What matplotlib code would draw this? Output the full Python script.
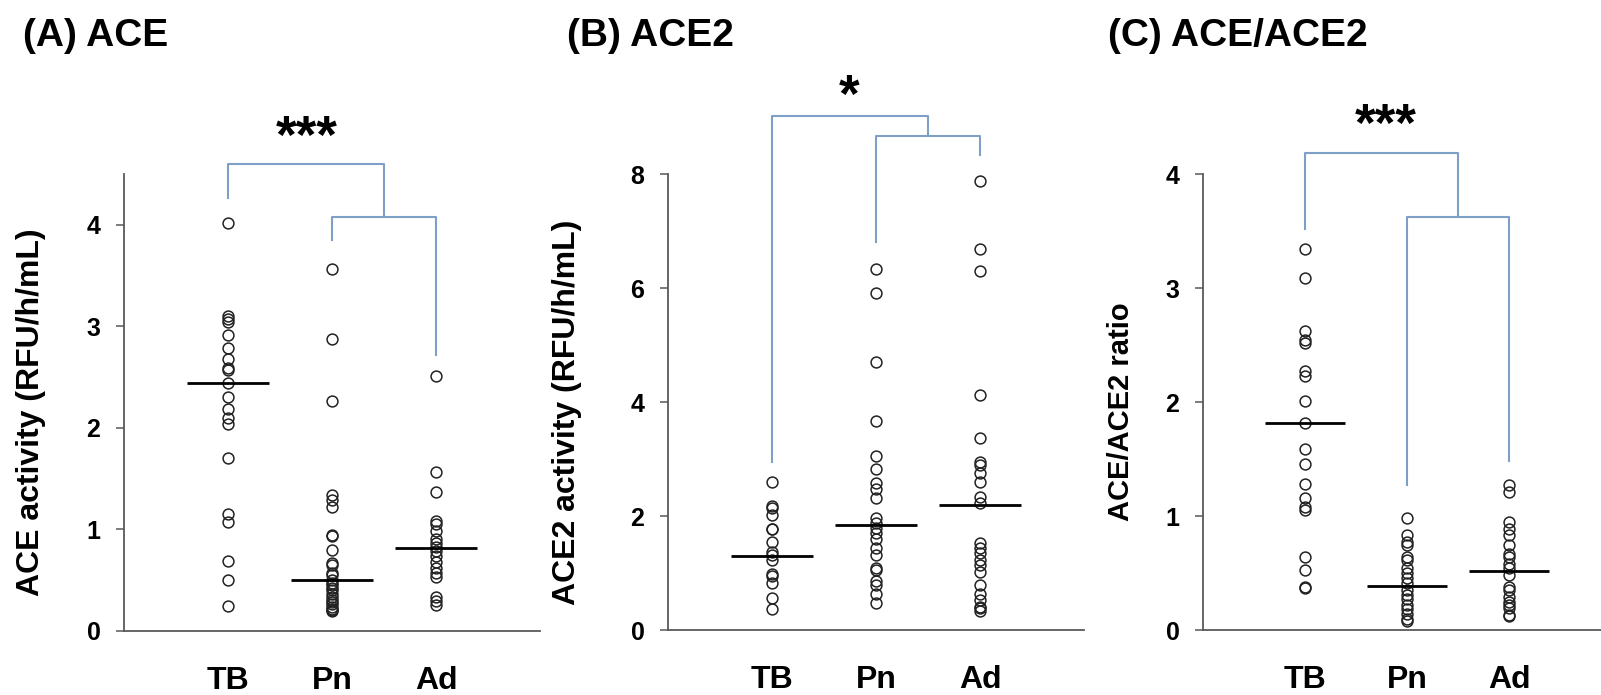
import matplotlib
matplotlib.use("Agg")
import matplotlib.pyplot as plt
import numpy as np

plt.rcParams['font.family'] = ['Liberation Sans', 'DejaVu Sans']
plt.rcParams['font.weight'] = 'bold'

groups = ["TB", "Pn", "Ad"]

# Panel A: ACE activity
ace_tb = [4.02, 3.10, 3.07, 3.04, 2.91, 2.79, 2.68, 2.59, 2.57, 2.44, 2.30, 2.19,
          2.10, 2.04, 1.70, 1.15, 1.07, 0.69, 0.50, 0.25]
ace_pn = [3.56, 2.88, 2.26, 1.34, 1.29, 1.22, 0.95, 0.94, 0.80, 0.67, 0.65, 0.57,
          0.55, 0.50, 0.47, 0.45, 0.42, 0.40, 0.36, 0.33, 0.31, 0.29, 0.27, 0.24,
          0.22, 0.21, 0.20]
ace_ad = [2.51, 1.57, 1.37, 1.08, 1.05, 0.98, 0.91, 0.87, 0.83, 0.79, 0.74, 0.68,
          0.62, 0.57, 0.53, 0.33, 0.30, 0.26]
ace_median = [2.44, 0.50, 0.82]

# Panel B: ACE2 activity
ace2_tb = [2.60, 2.18, 2.14, 2.02, 1.78, 1.77, 1.55, 1.37, 1.31, 1.22, 0.99, 0.95,
           0.83, 0.57, 0.36]
ace2_pn = [6.33, 5.92, 4.70, 3.66, 3.05, 2.82, 2.58, 2.48, 2.31, 1.96, 1.88, 1.79,
           1.70, 1.59, 1.43, 1.31, 1.08, 1.05, 0.86, 0.79, 0.64, 0.47]
ace2_ad = [7.88, 6.68, 6.29, 4.12, 3.36, 2.95, 2.89, 2.75, 2.60, 2.33, 2.22, 1.52,
           1.43, 1.35, 1.23, 1.14, 1.02, 0.79, 0.64, 0.53, 0.41, 0.38, 0.33]
ace2_median = [1.30, 1.85, 2.19]

# Panel C: ACE/ACE2 ratio
ratio_tb = [3.34, 3.09, 2.62, 2.54, 2.52, 2.27, 2.23, 2.01, 1.82, 1.59, 1.46, 1.28,
            1.16, 1.08, 1.05, 0.64, 0.53, 0.38, 0.37]
ratio_pn = [0.98, 0.83, 0.77, 0.75, 0.64, 0.61, 0.54, 0.50, 0.46, 0.41, 0.35, 0.31,
            0.27, 0.22, 0.18, 0.14, 0.10, 0.08]
ratio_ad = [1.27, 1.21, 0.95, 0.89, 0.83, 0.75, 0.67, 0.64, 0.58, 0.54, 0.48, 0.38,
            0.35, 0.29, 0.25, 0.22, 0.19, 0.13, 0.12]
ratio_median = [1.82, 0.39, 0.52]

titles = ["(A) ACE", "(B) ACE2", "(C) ACE/ACE2"]
ylabels = ["ACE activity (RFU/h/mL)", "ACE2 activity (RFU/h/mL)", "ACE/ACE2 ratio"]
ylabel_sizes = [23, 23, 21]
stars = ["***", "*", "***"]
yticks = [[0, 1, 2, 3, 4], [0, 2, 4, 6, 8], [0, 1, 2, 3, 4]]
ylims = [(0, 4.5), (0, 8), (0, 4)]
xlims = [(0, 4), (0, 4), (0, 3.9)]

# bracket levels: [outer bar, TB leg end, inner bar, Pn leg end, Ad leg end]
brackets = [[4.60, 4.26, 4.08, 3.85, 2.72],
            [9.02, 2.95, 8.67, 6.81, 8.33],
            [4.18, 3.52, 3.62, 1.27, 1.48]]
# star x and baseline y (data units)
star_pos = [(1.76, 4.71), (1.74, 9.08), (1.79, 4.29)]

data = [[ace_tb, ace_pn, ace_ad], [ace2_tb, ace2_pn, ace2_ad], [ratio_tb, ratio_pn, ratio_ad]]
medians = [ace_median, ace2_median, ratio_median]

W, H = 1601, 695
fig = plt.figure(figsize=(W / 100, H / 100), dpi=100)

# axes rectangles in pixels: left, right, top(of ylim), bottom
rects = [(124, 540, 174, 631), (668, 1084, 174, 630), (1203, 1601, 174, 630)]
ylab_x = [31, 567, 1121]
title_x = [23, 567, 1108]

axis_col = '#595959'
br_col = '#7F9FC6'

for i in range(3):
    l, r, t, b = rects[i]
    ax = fig.add_axes([l / W, 1 - b / H, (r - l) / W, (b - t) / H])
    ax.set_xlim(*xlims[i])
    ax.set_ylim(*ylims[i])
    for s in ['top', 'right']:
        ax.spines[s].set_visible(False)
    for s in ['left', 'bottom']:
        ax.spines[s].set_color(axis_col)
        ax.spines[s].set_linewidth(1.3)
    ax.set_yticks(yticks[i])
    ax.set_yticklabels([str(v) for v in yticks[i]], fontsize=18, fontweight='bold')
    ax.tick_params(axis='y', direction='out', length=6, width=1.1, color=axis_col, pad=11)
    ax.set_xticks([1, 2, 3])
    ax.set_xticklabels(groups, fontsize=23, fontweight='bold')
    ax.tick_params(axis='x', length=0, pad=25)

    for j in range(3):
        vals = data[i][j]
        ax.plot(np.full(len(vals), j + 1), vals, linestyle='none', marker='o',
                markersize=7.8, markerfacecolor='none', markeredgecolor='#222222',
                markeredgewidth=1.1, clip_on=False, zorder=3)
        ax.plot([j + 1 - 0.39, j + 1 + 0.39], [medians[i][j]] * 2, color='black',
                linewidth=2.0, solid_capstyle='butt', zorder=4)

    ob, tbl, ib, pnl, adl = brackets[i]
    kw = dict(color=br_col, linewidth=1.5, clip_on=False, zorder=2)
    ax.plot([1, 1, 2.5, 2.5], [tbl, ob, ob, ib], **kw)
    ax.plot([2, 2, 3, 3], [pnl, ib, ib, adl], **kw)
    ax.text(star_pos[i][0], star_pos[i][1], stars[i], ha='center', va='baseline',
            fontsize=38, fontweight='bold', clip_on=False)

    fig.text(ylab_x[i] / W, 1 - ((t + b) / 2 + 10) / H, ylabels[i], rotation=90,
             ha='center', va='center', fontsize=ylabel_sizes[i], fontweight='bold')
    fig.text(title_x[i] / W, 1 - 36 / H, titles[i], ha='left', va='center',
             fontsize=28, fontweight='bold')

fig.savefig('out.png', dpi=100)
